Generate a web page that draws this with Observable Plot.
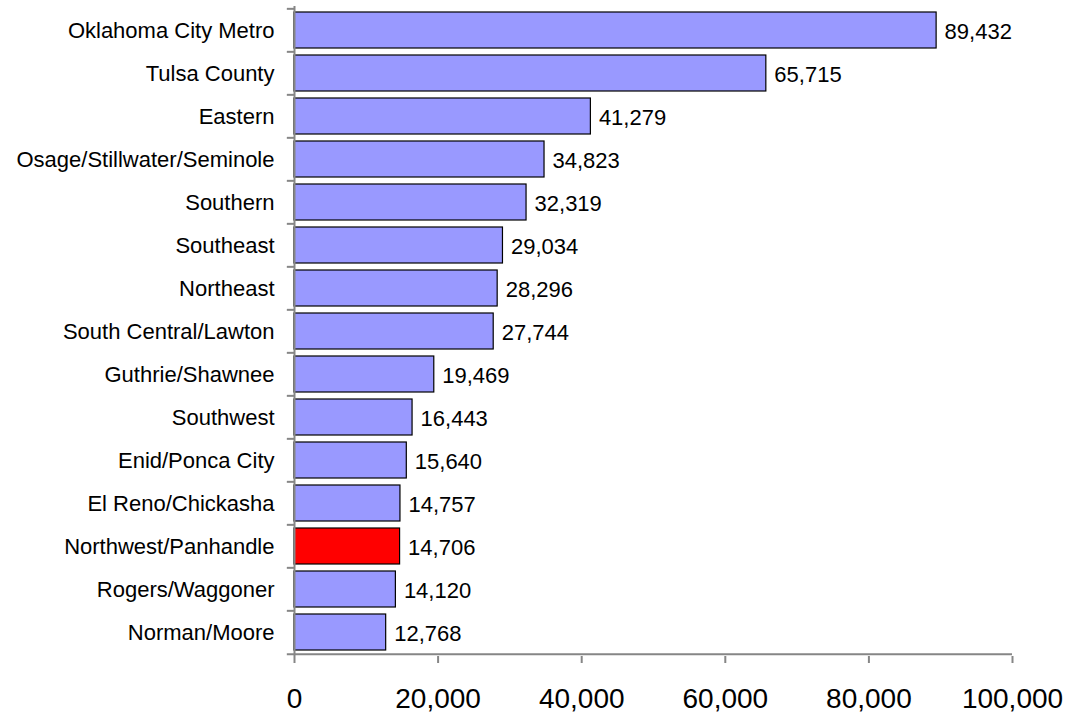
<!DOCTYPE html>
<html>
<head>
<meta charset="utf-8">
<script src="https://cdn.jsdelivr.net/npm/d3@7"></script>
<script src="https://cdn.jsdelivr.net/npm/@observablehq/plot@0.6"></script>
<style>
  html, body { margin: 0; padding: 0; background: #fff; }
  svg { display: block; font-family: Arial, "Liberation Sans", sans-serif; }
</style>
</head>
<body>
<div id="chart"></div>
<script>
const regions = [
  "Oklahoma City Metro", "Tulsa County", "Eastern", "Osage/Stillwater/Seminole",
  "Southern", "Southeast", "Northeast", "South Central/Lawton", "Guthrie/Shawnee",
  "Southwest", "Enid/Ponca City", "El Reno/Chickasha", "Northwest/Panhandle",
  "Rogers/Waggoner", "Norman/Moore"
];
const counts = [89432, 65715, 41279, 34823, 32319, 29034, 28296, 27744, 19469,
  16443, 15640, 14757, 14706, 14120, 12768];
const highlighted = ["Northwest/Panhandle"];
const xTicks = [0, 20000, 40000, 60000, 80000, 100000];

const data = regions.map((r, i) => ({region: r, count: counts[i], hi: highlighted.includes(r)}));

const width = 1070, height = 717;
const marginTop = 6, marginBottom = 61, marginLeft = 294, marginRight = 58;
const step = (height - marginTop - marginBottom) / regions.length;
const axisColor = "#868686";
const fmt = d3.format(",");

const chart = Plot.plot({
  width, height, marginTop, marginBottom, marginLeft, marginRight,
  style: {fontFamily: "Arial, 'Liberation Sans', sans-serif", background: "#fff"},
  x: {domain: [0, 100000], ticks: xTicks},
  y: {domain: regions, paddingInner: 0.16, paddingOuter: 0.08, align: 0.5},
  marks: [
    Plot.barX(data, {
      x: "count", y: "region",
      fill: d => d.hi ? "#FF0000" : "#9999FF",
      stroke: "#000", strokeWidth: 1.2
    }),
    Plot.text(data, {
      x: "count", y: "region", text: d => fmt(d.count),
      textAnchor: "start", dx: 8, dy: 1, fontSize: 22, fill: "#000"
    }),
    // y axis line
    Plot.ruleX([0], {stroke: axisColor, strokeWidth: 2}),
    // y ticks at band boundaries
    Plot.ruleY(regions, {y: d => d, x1: -1000, x2: 0, dy: -step / 2, stroke: axisColor, strokeWidth: 2}),
    // x axis line (bottom boundary)
    Plot.ruleY([regions[regions.length - 1]], {x1: -1000, x2: 100000, dy: step / 2, stroke: axisColor, strokeWidth: 2}),
    Plot.axisY({tickSize: 0, tickPadding: 20, fontSize: 22, fill: "#000", label: null}),
    Plot.axisX({
      ticks: xTicks, tickSize: 7, tickPadding: 25, fontSize: 28,
      tickFormat: fmt, stroke: axisColor, strokeWidth: 2, fill: "#000", label: null
    })
  ]
});
document.getElementById("chart").append(chart);
</script>
</body>
</html>
